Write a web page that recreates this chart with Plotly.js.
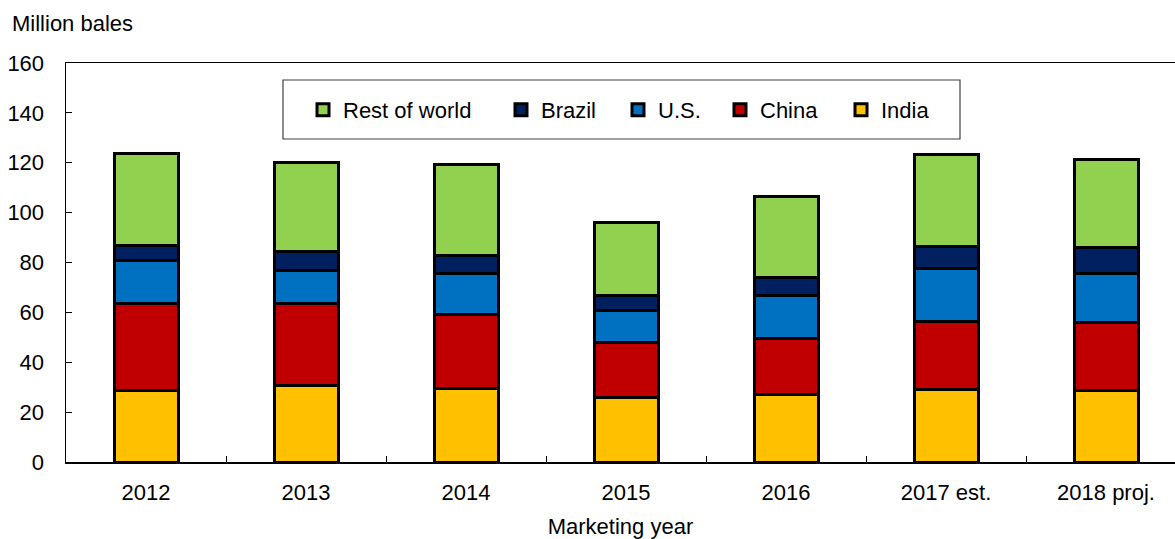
<!DOCTYPE html>
<html>
<head>
<meta charset="utf-8">
<script src="https://cdn.plot.ly/plotly-3.0.1.min.js"></script>
<style>html,body{margin:0;padding:0;background:#fff}#chart{width:1175px;height:539px}</style>
</head>
<body>
<div id="chart"></div>
<script>
const years = ["2012", "2013", "2014", "2015", "2016", "2017 est.", "2018 proj."];
const india = [28.6, 30.8, 29.4, 25.9, 26.9, 28.9, 28.6];
const china = [34.8, 32.8, 29.9, 21.9, 22.7, 27.4, 27.4];
const us = [17.3, 13.1, 16.4, 12.9, 17.1, 21.1, 19.7];
const brazil = [6.0, 7.9, 7.2, 6.0, 7.2, 8.9, 10.2];
const restOfWorld = [37.1, 35.6, 36.2, 29.5, 32.6, 37.1, 35.6];
const yTicks = [0, 20, 40, 60, 80, 100, 120, 140, 160];

const font = "Liberation Sans, Arial, sans-serif";
const FS = 22;
function mk(name, y, color, leg) {
  return {type: "bar", name: name, x: years, y: y, width: 0.4, legend: leg,
    marker: {color: color, line: {color: "#000", width: 3}},
    hoverinfo: "skip"};
}
const traces = [
  mk("India", india, "#FFC000", "legend5"),
  mk("China", china, "#C00000", "legend4"),
  mk("U.S.", us, "#0070C0", "legend3"),
  mk("Brazil", brazil, "#002060", "legend2"),
  mk("Rest of world", restOfWorld, "#92D050", "legend")
];
const L = 66, W = 1109, T = 63, H = 399;
function px(x) { return (x - L) / W; }
function py(y) { return (T + H - y) / H; }
function leg(xpix) {
  return {x: px(xpix), y: py(89), xanchor: "left", yanchor: "top", orientation: "h",
    bgcolor: "rgba(0,0,0,0)", borderwidth: 0, itemwidth: 30,
    font: {family: font, size: FS, color: "#000"}};
}
const layout = {
  width: 1175, height: 539,
  margin: {l: L, r: 0, t: T, b: 539 - T - H, pad: 0},
  paper_bgcolor: "#fff", plot_bgcolor: "#fff",
  barmode: "stack",
  font: {family: font, size: FS, color: "#000"},
  xaxis: {type: "category", range: [-0.5, -0.5 + W / 160], showline: true, linecolor: "#000", linewidth: 1.5,
    mirror: true, ticks: "inside", tickson: "boundaries", ticklen: 6, tickcolor: "#000",
    showgrid: false, zeroline: false, ticklabelstandoff: 10,
    tickfont: {family: font, size: FS, color: "#000"},
    title: {text: "Marketing year", font: {family: font, size: FS, color: "#000"}, standoff: 16}},
  yaxis: {range: [0, 160], tickvals: yTicks, showline: true, linecolor: "#000", linewidth: 1.5,
    ticks: "inside", ticklen: 6, tickcolor: "#000", showgrid: false, zeroline: false,
    ticklabelstandoff: 16, tickfont: {family: font, size: FS, color: "#000"}},
  showlegend: true,
  legend: leg(303),
  legend2: leg(501),
  legend3: leg(618),
  legend4: leg(720),
  legend5: leg(841),
  shapes: [{type: "rect", xref: "paper", yref: "paper", x0: px(283), x1: px(960), y0: py(80), y1: py(139),
    line: {color: "#404040", width: 1.2}, fillcolor: "#fff", layer: "above"}],
  annotations: [{text: "Million bales", xref: "paper", yref: "paper", x: px(10), y: py(24),
    xanchor: "left", yanchor: "middle", showarrow: false, font: {family: font, size: FS, color: "#000"}}]
};
Plotly.newPlot("chart", traces, layout, {displayModeBar: false, staticPlot: true});
</script>
</body>
</html>
